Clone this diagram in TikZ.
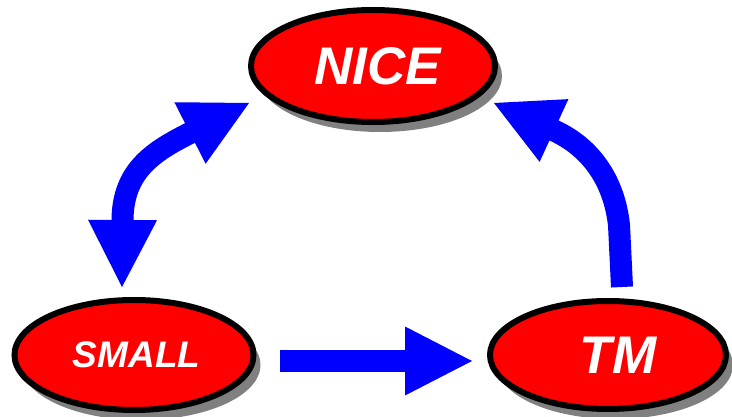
\documentclass[tikz,border=0pt]{standalone}
\usepackage{fontspec}
\newfontfamily\hvfont{Liberation Sans}
\usetikzlibrary{shapes.geometric,shadows,calc}
\definecolor{ellred}{RGB}{255,0,0}
\definecolor{arrblue}{RGB}{0,0,255}
\definecolor{shadowgray}{RGB}{128,128,128}
\tikzset{
  oval/.style={ellipse, draw=black, line width=6pt, fill=ellred,
    minimum width=239pt, minimum height=110pt, inner sep=0pt,
    text=white, font=\hvfont\bfseries\itshape,
    drop shadow={shadow xshift=7pt, shadow yshift=-10pt, fill=shadowgray, opacity=1}},
  shaft/.style={draw=arrblue, line width=22pt, line cap=butt},
}
\newcommand{\bighead}[2]{%
  \fill[arrblue] (#2) -- ($(#1)!34.5pt!90:(#2)$) -- ($(#1)!34.5pt!-90:(#2)$) -- cycle;}
\begin{document}
\begin{tikzpicture}[x=1pt,y=-1pt]
\useasboundingbox (0,0) rectangle (732,417);
\node[oval, minimum width=244pt, minimum height=112pt,
  font=\hvfont\bfseries\itshape\fontsize{53}{53}\selectfont] (nice) at (373,66) {\hspace*{10pt}NICE};
\node[oval, font=\hvfont\bfseries\itshape\fontsize{37}{37}\selectfont] (small) at (134,355) {\hspace*{5pt}SMALL};
\node[oval, minimum width=236pt, minimum height=108pt,
  font=\hvfont\bfseries\itshape\fontsize{53}{53}\selectfont] (tm) at (608,355) {\hspace*{20pt}TM};
% arrow coordinates
\coordinate (bs) at (280,361);
\coordinate (bb) at (405,361);
\coordinate (bt) at (472,361);
\coordinate (lt1) at (249,103);
\coordinate (lb1) at (190,133);
\coordinate (lt2) at (122,287);
\coordinate (lb2) at (122.5,220);
\coordinate (rt) at (494,103);
\coordinate (rb) at (554,130.5);
\coordinate (rs) at (622,287);
% SMALL -> TM
\draw[shaft] (bs) -- ($(bb)!2pt!(bt)$);
\bighead{bb}{bt}
% NICE <-> SMALL
\draw[shaft] ($(lb1)!2pt!(lt1)$) -- (lb1) .. controls ($(lb1)!-40pt!(lt1)$) and ($(lb2)!-50pt!(lt2)$) .. (lb2) -- ($(lb2)!2pt!(lt2)$);
\bighead{lb1}{lt1}
\bighead{lb2}{lt2}
% TM -> NICE
\draw[shaft] (rs) -- (619,225) .. controls (614,180) and ($(rb)!-40pt!(rt)$) .. (rb) -- ($(rb)!2pt!(rt)$);
\bighead{rb}{rt}
\end{tikzpicture}
\end{document}
